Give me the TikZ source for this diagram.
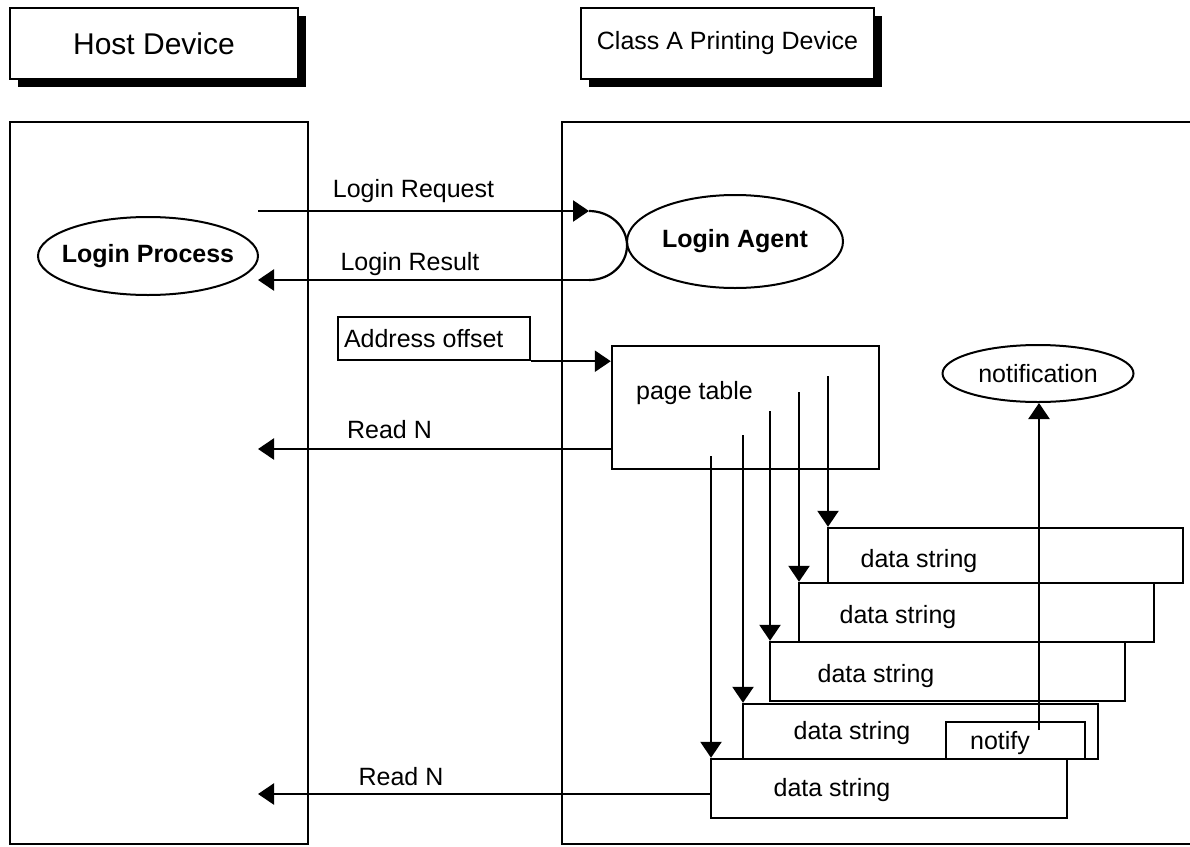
\documentclass[tikz,border=0pt]{standalone}
\usepackage{fontspec}
\setmainfont{Liberation Sans}
\usetikzlibrary{arrows.meta,shapes.geometric,shadows}
\begin{document}
\begin{tikzpicture}[x=1pt,y=-1pt,
  every node/.style={font=\fontsize{25}{30}\selectfont, inner sep=0pt},
  lane/.style={line width=2.6pt},
  boxed/.style={draw, rectangle, line width=2.4pt},
  shadowbox/.style={boxed, fill=white, drop shadow={shadow xshift=8pt, shadow yshift=-8pt, fill=black, opacity=1}},
  oval/.style={draw, ellipse, line width=2pt, inner xsep=-25pt, inner ysep=0pt},
  plain/.style={line width=2.2pt},
  conn/.style={line width=2.4pt, -{Triangle[length=16pt,width=21pt]}}]
\useasboundingbox (0,0) rectangle (1190,846);

% headers
\node[shadowbox, minimum width=288, minimum height=71, font=\fontsize{30}{36}\selectfont] (host) at (154,43.5) {Host Device};
\node[shadowbox, minimum width=293, minimum height=71] (cls) at (727.5,43.5) {Class A Printing Device};

% lanes
\draw[lane] (10,122) rectangle (308,844);
\draw[lane] (1192,122) -- (562,122) -- (562,844) -- (1192,844);

% login
\node[oval, minimum width=220, minimum height=78, font=\fontsize{25}{30}\selectfont\bfseries] (lp) at (148,256) {Login Process};
\node[oval, minimum width=216, minimum height=93, font=\fontsize{25}{30}\selectfont\bfseries] (la) at (735,241.5) {Login Agent};
\coordinate (sa) at (589,211);
\coordinate (sb) at (589,280);
\draw[plain] (sa) arc[start angle=-90, end angle=90, x radius=38, y radius=34.5];
\coordinate (lrq) at (258,211);
\coordinate (lrs) at (258,280);
\draw[conn] (lrq) -- (sa);
\draw[conn] (sb) -- (lrs);
\node (lrqt) at (413.5,191) {Login Request};
\node (lrst) at (410,264) {Login Result};

% address / page table
\node[boxed, minimum width=192, minimum height=43] (ao) at (434,338.5) {\makebox[180pt][l]{Address offset}};
\node[boxed, minimum width=267, minimum height=123] (pt) at (745.5,407.5) {};
\node (ptl) at (694.5,393) {page table};
\draw[conn] (ao.south east) -- (ao.south east -| pt.west);

\coordinate (r1) at (258,449);
\draw[conn] (pt.west |- r1) -- (r1);
\node (r1t) at (389.5,430) {Read N};

% data strings
\node[boxed, minimum width=355, minimum height=55] (d1) at (1005.5,555.5) {};
\node[boxed, minimum width=355, minimum height=59] (d2) at (976.5,612.5) {};
\node[boxed, minimum width=355, minimum height=59] (d3) at (947.5,671.5) {};
\node[boxed, minimum width=355, minimum height=55] (d4) at (920.5,731.5) {};
\node[boxed, minimum width=356, minimum height=59] (d5) at (889,788.5) {};
\node (t1) at (919,561) {data string};
\node (t2) at (898,617) {data string};
\node (t3) at (876,676) {data string};
\node (t4) at (852,733) {data string};
\node (t5) at (832,790) {data string};

\coordinate (v1) at (711,456);
\coordinate (v2) at (743,435);
\coordinate (v3) at (770,411);
\coordinate (v4) at (799,392);
\coordinate (v5) at (828,376);
\draw[conn] (v1) -- (v1 |- d5.north);
\draw[conn] (v2) -- (v2 |- d4.north);
\draw[conn] (v3) -- (v3 |- d3.north);
\draw[conn] (v4) -- (v4 |- d2.north);
\draw[conn] (v5) -- (v5 |- d1.north);

% notify
\node[boxed, minimum width=139, minimum height=37] (nf) at (1015.5,740.5) {};
\node (nft) at (1000,743) {notify};
\node[oval, minimum width=191, minimum height=57] (ntf) at (1038,373.5) {notification};
\coordinate (ns) at (1039,730);
\draw[conn] (ns) -- (ns |- ntf.south);

\coordinate (r2) at (258,794);
\draw[conn] (d5.west |- r2) -- (r2);
\node (r2t) at (401,777) {Read N};
\end{tikzpicture}
\end{document}
